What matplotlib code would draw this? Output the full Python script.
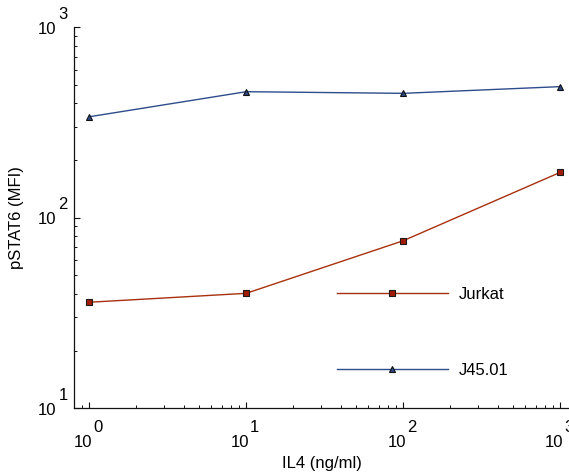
import matplotlib
matplotlib.use("Agg")
import matplotlib.pyplot as plt
import matplotlib.transforms as mtransforms
from matplotlib.ticker import LogLocator, NullFormatter

# ---- data ----
il4 = [1, 10, 100, 1000]
jurkat = [36, 40.1, 75.7, 173]
j4501 = [339, 459, 450, 488]
series_labels = ["Jurkat", "J45.01"]
x_tick_exps = [0, 1, 2, 3]
y_tick_exps = [1, 2, 3]
xlabel = "IL4 (ng/ml)"
ylabel = "pSTAT6 (MFI)"

plt.rcParams['font.family'] = ['Liberation Sans', 'DejaVu Sans']
FS = 12

W, H = 569, 475
fig = plt.figure(figsize=(W / 100, H / 100), dpi=100)
ax = fig.add_axes([74 / W, (H - 408.2) / H, (569 - 74) / W, (408.2 - 27.3) / H])

red = '#A8300F'
blue = '#2E4C8C'
l1, = ax.plot(il4, jurkat, color=red, lw=1.0, marker='s', ms=4.3,
              mfc='#A51A05', mec='#1a1a1a', mew=0.8)
l2, = ax.plot(il4, j4501, color=blue, lw=1.0, marker='^', ms=4.8,
              mfc='#2D4A85', mec='#101010', mew=0.8)

ax.set_xscale('log')
ax.set_yscale('log')
ax.set_xlim(0.8, 1140)
ax.set_ylim(10, 1000)

for s in ['top', 'right']:
    ax.spines[s].set_visible(False)
for s in ['left', 'bottom']:
    ax.spines[s].set_linewidth(0.9)
    ax.spines[s].set_color('#111111')

ax.xaxis.set_major_locator(LogLocator(base=10, numticks=10))
ax.yaxis.set_major_locator(LogLocator(base=10, numticks=10))
ax.xaxis.set_minor_locator(LogLocator(base=10, subs=range(2, 10), numticks=10))
ax.yaxis.set_minor_locator(LogLocator(base=10, subs=range(2, 10), numticks=10))
ax.xaxis.set_major_formatter(NullFormatter())
ax.yaxis.set_major_formatter(NullFormatter())
ax.xaxis.set_minor_formatter(NullFormatter())
ax.yaxis.set_minor_formatter(NullFormatter())
ax.tick_params(which='major', direction='in', length=4.2, width=0.8, colors='#111111')
ax.tick_params(which='minor', direction='in', length=2.3, width=0.7, colors='#111111')

# tick labels drawn as "10" plus a raised exponent of the same size
px = 1 / 100.0
for e in x_tick_exps:
    tr = mtransforms.blended_transform_factory(ax.transData, ax.transAxes)
    t_base = tr + mtransforms.ScaledTranslation(3 * px, -38.4 * px, fig.dpi_scale_trans)
    t_exp = tr + mtransforms.ScaledTranslation(4 * px, -23.4 * px, fig.dpi_scale_trans)
    ax.text(10 ** e, 0, "10", transform=t_base, ha='right', va='baseline',
            fontsize=FS, clip_on=False)
    ax.text(10 ** e, 0, str(e), transform=t_exp, ha='left', va='baseline',
            fontsize=FS, clip_on=False)
for e in y_tick_exps:
    tr = mtransforms.blended_transform_factory(ax.transAxes, ax.transData)
    t_base = tr + mtransforms.ScaledTranslation(-17.3 * px, -6.6 * px, fig.dpi_scale_trans)
    t_exp = tr + mtransforms.ScaledTranslation(-15.6 * px, 8.5 * px, fig.dpi_scale_trans)
    ax.text(0, 10 ** e, "10", transform=t_base, ha='right', va='baseline',
            fontsize=FS, clip_on=False)
    ax.text(0, 10 ** e, str(e), transform=t_exp, ha='left', va='baseline',
            fontsize=FS, clip_on=False)

ax.set_xlabel(xlabel, fontsize=FS)
ax.set_ylabel(ylabel, fontsize=FS)
ax.xaxis.set_label_coords(0.5, -(456 - 408.2) / 380.9)
ax.yaxis.set_label_coords(-(74 - 9) / 495, 0.5)
ax.xaxis.label.set_va('top')
ax.yaxis.label.set_va('top')

leg = ax.legend([l1, l2], series_labels, loc='center left',
                bbox_to_anchor=(0.531, 0.1988), frameon=False, fontsize=FS,
                handlelength=6.66, handletextpad=0.65, labelspacing=3.7,
                borderpad=0, borderaxespad=0, markerscale=1.0)

fig.savefig("out.png", dpi=100)
